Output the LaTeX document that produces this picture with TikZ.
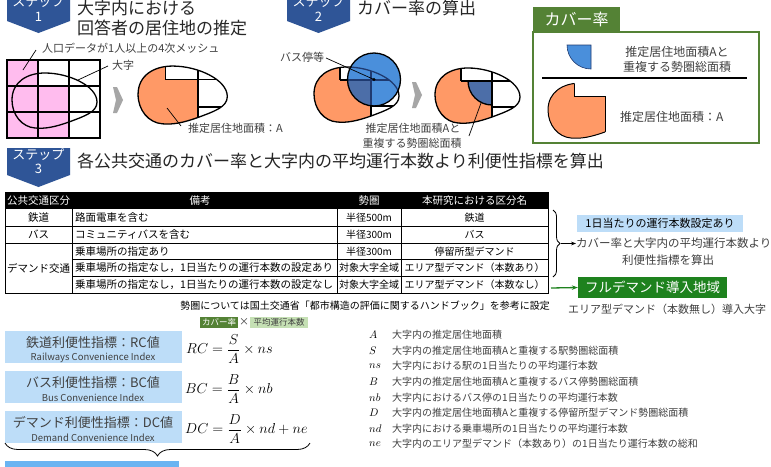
\documentclass[tikz,border=0pt]{standalone}
\usepackage{fontspec}
\setmainfont{Noto Sans CJK JP}
\usetikzlibrary{decorations.pathreplacing,arrows.meta}
\definecolor{badge}{HTML}{2F5597}
\definecolor{pinkc}{HTML}{FFBCEE}
\definecolor{orangec}{HTML}{FF9966}
\definecolor{bluec}{HTML}{4A8FDB}
\definecolor{darkbluec}{HTML}{4C6EA8}
\definecolor{navyc}{HTML}{1F3A70}
\definecolor{greenc}{HTML}{548235}
\definecolor{fullgreen}{HTML}{1E821E}
\definecolor{lightbluebox}{HTML}{BDDDF8}
\definecolor{lightgreen}{HTML}{C5E0B4}
\definecolor{barblue}{HTML}{6AB4F2}
\definecolor{txt}{HTML}{404040}
\definecolor{grayc}{HTML}{A6A6A6}
\newcommand{\fs}[1]{\fontsize{#1}{#1}\selectfont}
\tikzset{
  eggpath/.style={insert path={(5,40) .. controls (5,22) and (20,13) .. (38,13) .. controls (62,13) and (90,26) .. (90,42) .. controls (90,52) and (78,56) .. (62,62) .. controls (48,67) and (38,69) .. (28,68) .. controls (15,67) and (5,55) .. (5,40) -- cycle}},
  orangeregion/.style={insert path={(-5,-5) -- (31,-5) -- (31,26) -- (62,26) -- (62,80) -- (-5,80) -- cycle}},
  shapeline/.style={line width=1.3pt, draw=black},
  lbl/.style={inner sep=0pt, text=txt},
  tcell/.style={inner sep=0pt, font=\fs{10.5}, text=black},
  tcellS/.style={inner sep=0pt, font=\fs{10}, text=black},
  idxbox/.style={fill=lightbluebox, minimum width=177pt, minimum height=32pt, inner sep=0pt},
  leaderline/.style={line width=0.7pt, black},
}
\newcommand{\eggresult}{%
  \fill[white, eggpath];
  \begin{scope}
    \clip[eggpath];
    \fill[orangec, orangeregion];
    \draw[shapeline] (31,0) -- (31,26) (62,0) -- (62,80) (31,26) -- (95,26) (62,52) -- (95,52);
  \end{scope}
  \draw[shapeline, eggpath];
}
\begin{document}
\begin{tikzpicture}[x=1pt,y=-1pt]
\useasboundingbox (0,0) rectangle (771,466);
\fill[white] (0,0) rectangle (771,466);

% ---------- Step 1 ----------
\fill[badge] (7,-6) -- (70,-6) -- (70,21) -- (38.5,33) -- (7,21) -- cycle;
\node[inner sep=0pt, text=white, font=\fs{13}] (s1a) at (38.5,2) {ステップ};
\node[inner sep=0pt, text=white, font=\fs{13}] (s1b) at (38.5,17) {1};
\node[lbl, anchor=west, font=\fs{17}, text=black!85] (t1a) at (77,8) {大字内における};
\node[lbl, anchor=west, font=\fs{17}, text=black!85] (t1b) at (77,28) {回答者の居住地の推定};

\begin{scope}[shift={(7,60)}]
  \fill[pinkc] (0,0) rectangle (31,78);
  \fill[pinkc] (31,26) rectangle (62,78);
  \draw[shapeline] (0,0) rectangle (93,78) (31,0) -- (31,78) (62,0) -- (62,78) (0,26) -- (93,26) (0,52) -- (93,52);
  \draw[shapeline, eggpath];
\end{scope}
\node[lbl, anchor=west, font=\fs{11}] (meshlbl) at (42,48) {人口データが1人以上の4次メッシュ};
\coordinate (m1) at (36,50); \coordinate (m2) at (23,70);
\draw[leaderline] (m1) -- (m2);
\node[lbl, anchor=west, font=\fs{11}] (oaza) at (112,65) {大字};
\coordinate (o1) at (108,66); \coordinate (o2) at (78,80);
\draw[leaderline] (o1) -- (o2);

\fill[grayc] (113,87) -- (117,87) -- (123,100) -- (117,113) -- (113,113) -- (116,100) -- cycle;

\begin{scope}[shift={(132.8,52.4)}, scale=1.05]
  \eggresult
\end{scope}
\node[lbl, anchor=west, font=\fs{11}] (alab) at (188,128) {推定居住地面積：A};
\coordinate (a1) at (181,126); \coordinate (a2) at (167,108);
\draw[leaderline] (a1) -- (a2);

% ---------- Step 2 ----------
\fill[badge] (287,-6) -- (350,-6) -- (350,21) -- (318.5,33) -- (287,21) -- cycle;
\node[inner sep=0pt, text=white, font=\fs{13}] (s2a) at (318.5,2) {ステップ};
\node[inner sep=0pt, text=white, font=\fs{13}] (s2b) at (318.5,17) {2};
\node[lbl, anchor=west, font=\fs{17}, text=black!85] (t2) at (357,8) {カバー率の算出};

\begin{scope}[shift={(309,54)}]
  \eggresult
  \begin{scope}
    \clip (65,25.5) circle [radius=26.5];
    \fill[bluec] (65,25.5) circle [radius=26.5];
    \begin{scope}
      \clip[eggpath];
      \fill[darkbluec, orangeregion];
      \draw[line width=1.3pt, navyc] (31,0) -- (31,26) (62,0) -- (62,80) (31,26) -- (95,26) (62,52) -- (95,52);
    \end{scope}
    \draw[line width=1.3pt, navyc, eggpath];
  \end{scope}
  \draw[shapeline] (65,25.5) circle [radius=26.5];
  \coordinate (busdot) at (65,25.5);
\end{scope}
\fill (busdot) circle [radius=1.6];
\node[lbl, font=\fs{11}] (buslbl) at (302,57) {バス停等};
\coordinate (b1) at (326,58);
\draw[leaderline] (b1) -- (busdot);

\fill[grayc] (412,82) -- (416,82) -- (422,95) -- (416,108) -- (412,108) -- (415,95) -- cycle;

\begin{scope}[shift={(430,55)}]
  \eggresult
  \fill[darkbluec] (62,26) -- (38,26) arc[start angle=180, end angle=90, radius=24] -- cycle;
  \draw[shapeline] (38,26) arc[start angle=180, end angle=90, radius=24];
  \draw[shapeline] (36,26) -- (62,26) -- (62,51);
\end{scope}
\node[lbl, font=\fs{11}, align=center] (ovlbl1) at (413,128) {推定居住地面積Aと};
\node[lbl, font=\fs{11}, align=center] (ovlbl2) at (412,143) {重複する勢圏総面積};
\coordinate (v1) at (469,136); \coordinate (v2) at (481,103);
\draw[leaderline] (v1) -- (v2);

% ---------- Cover-rate box ----------
\node[fill=greenc, minimum width=87pt, minimum height=25pt, inner sep=0pt, text=white, font=\fs{16}] (covtab) at (576.5,19.5) {カバー率};
\draw[greenc, line width=1.5pt] (533,32) rectangle (759,143);
\fill[bluec] (591,45) -- (567,45) arc[start angle=180, end angle=90, radius=24] -- cycle;
\draw[line width=0.6pt, navyc] (591,45) -- (567,45) arc[start angle=180, end angle=90, radius=24] -- cycle;
\node[lbl, font=\fs{12}] (cnum1) at (677,52) {推定居住地面積Aと};
\node[lbl, font=\fs{12}] (cnum2) at (677,67) {重複する勢圏総面積};
\draw[line width=1.6pt] (542,78) -- (747,78);
\begin{scope}[shift={(543,70)}]
  \begin{scope}
    \clip[eggpath];
    \fill[orangec, orangeregion];
    \draw[line width=1pt, orangeregion];
  \end{scope}
  \begin{scope}
    \clip[orangeregion];
    \draw[line width=1pt, eggpath];
  \end{scope}
\end{scope}
\node[lbl, font=\fs{12}, anchor=west] (cden) at (620,117) {推定居住地面積：A};

% ---------- Step 3 ----------
\fill[badge] (7,148) -- (70,148) -- (70,175) -- (38.5,187) -- (7,175) -- cycle;
\node[inner sep=0pt, text=white, font=\fs{13}] (s3a) at (38.5,155) {ステップ};
\node[inner sep=0pt, text=white, font=\fs{13}] (s3b) at (38.5,169) {3};
\node[lbl, anchor=west, font=\fs{17}, text=black!85] (t3) at (77,161) {各公共交通のカバー率と大字内の平均運行本数より利便性指標を算出};

% ---------- Table ----------
\fill[black] (5,192) rectangle (548,209);
\draw[line width=0.7pt] (5,192) rectangle (548,293);
\draw[line width=0.7pt] (72,209) -- (72,293) (337,209) -- (337,293) (401,209) -- (401,293);
\draw[line width=0.7pt] (5,226) -- (548,226) (5,243) -- (548,243) (72,259.5) -- (548,259.5) (72,276) -- (548,276);
\node[tcell, text=white] (h1) at (38.5,200.5) {公共交通区分};
\node[tcell, text=white] (h2) at (200,200.5) {備考};
\node[tcell, text=white] (h3) at (369,200.5) {勢圏};
\node[tcell, text=white] (h4) at (474.5,200.5) {本研究における区分名};
\node[tcell] (c11) at (38.5,217.5) {鉄道};
\node[tcell] (c21) at (38.5,234.5) {バス};
\node[tcell] (c31) at (38.5,268) {デマンド交通};
\node[tcell, anchor=west] (c12) at (75,217.5) {路面電車を含む};
\node[tcell, anchor=west] (c22) at (75,234.5) {コミュニティバスを含む};
\node[tcell, anchor=west] (c32) at (75,251.2) {乗車場所の指定あり};
\node[tcell, anchor=west] (c42) at (75,267.8) {乗車場所の指定なし，1日当たりの運行本数の設定あり};
\node[tcell, anchor=west] (c52) at (75,284.5) {乗車場所の指定なし，1日当たりの運行本数の設定なし};
\node[tcellS] (c13) at (369,217.5) {半径500m};
\node[tcellS] (c23) at (369,234.5) {半径300m};
\node[tcellS] (c33) at (369,251.2) {半径300m};
\node[tcellS] (c43) at (369,267.8) {対象大字全域};
\node[tcellS] (c53) at (369,284.5) {対象大字全域};
\node[tcellS] (c14) at (474.5,217.5) {鉄道};
\node[tcellS] (c24) at (474.5,234.5) {バス};
\node[tcellS] (c34) at (474.5,251.2) {停留所型デマンド};
\node[tcellS] (c44) at (474.5,267.8) {エリア型デマンド（本数あり）};
\node[tcellS] (c54) at (474.5,284.5) {エリア型デマンド（本数なし）};
\node[lbl, font=\fs{10}, text=black] (note) at (365,306) {勢圏については国土交通省「都市構造の評価に関するハンドブック」を参考に設定};

% ---------- Right side ----------
\coordinate (br1) at (553,210); \coordinate (br2) at (553,277);
\draw[line width=0.8pt, decorate, decoration={brace, amplitude=7pt}] (br1) -- (br2);
\coordinate (brtip) at (561,243.5);
\node[fill=lightbluebox, minimum width=166pt, minimum height=17pt, inner sep=0pt, font=\fs{11}] (oneday) at (660,223.5) {1日当たりの運行本数設定あり};
\node[lbl, font=\fs{11.5}, anchor=west] (calc1) at (576,243.5) {カバー率と大字内の平均運行本数より};
\node[lbl, font=\fs{11.5}] (calc2) at (668,260) {利便性指標を算出};
\draw[line width=0.7pt, -{Stealth[length=5pt]}] (brtip) -- (calc1.west);
\node[fill=fullgreen, minimum width=149pt, minimum height=21pt, inner sep=0pt, text=white, font=\fs{13.5}] (fullbox) at (652.5,287.5) {フルデマンド導入地域};
\coordinate (gstart) at (551,288);
\draw[fullgreen, line width=1.3pt, -{Stealth[length=6pt]}] (gstart) -- (fullbox.west);
\node[lbl, font=\fs{11}] (fulltxt) at (667,309) {エリア型デマンド（本数無し）導入大字};

% ---------- Indices ----------
\node[fill=greenc, minimum width=38pt, minimum height=11pt, inner sep=0pt, text=white, font=\fs{8.5}] (tagc) at (219,322) {カバー率};
\node[inner sep=0pt, font=\fs{10}, text=txt] (tagx) at (244,322) {×};
\node[fill=lightgreen, minimum width=58pt, minimum height=11pt, inner sep=0pt, text=txt, font=\fs{8.5}] (tagn) at (279,322) {平均運行本数};

\node[idxbox] (box1) at (93.5,347) {};
\node[idxbox] (box2) at (93.5,387) {};
\node[idxbox] (box3) at (93.5,427) {};
\node[lbl, font=\fs{13}] (b1a) at (93,343) {鉄道利便性指標：RC値};
\node[lbl, font=\fs{9.5}] (b1b) at (93,358) {Railways Convenience Index};
\node[lbl, font=\fs{13}] (b2a) at (93,382.5) {バス利便性指標：BC値};
\node[lbl, font=\fs{9.5}] (b2b) at (93,398) {Bus Convenience Index};
\node[lbl, font=\fs{13}] (b3a) at (93,422.5) {デマンド利便性指標：DC値};
\node[lbl, font=\fs{9.5}] (b3b) at (93,438) {Demand Convenience Index};

\node[inner sep=0pt, anchor=west, font=\fs{15.5}] (eq1) at (186,349) {$\displaystyle RC=\frac{S}{A}\times ns$};
\node[inner sep=0pt, anchor=west, font=\fs{15.5}] (eq2) at (185,389) {$\displaystyle BC=\frac{B}{A}\times nb$};
\node[inner sep=0pt, anchor=west, font=\fs{15.5}] (eq3) at (185,429) {$\displaystyle DC=\frac{D}{A}\times nd+ne$};

\coordinate (bb1) at (310,443); \coordinate (bb2) at (5,443);
\draw[line width=0.8pt, decorate, decoration={brace, amplitude=13pt}] (bb1) -- (bb2);
\fill[barblue] (5,461) rectangle (179,470);

% ---------- Legend ----------
\foreach \v/\d [count=\i] in {
  A/大字内の推定居住地面積,
  S/大字内の推定居住地面積Aと重複する駅勢圏総面積,
  ns/大字内における駅の1日当たりの平均運行本数,
  B/大字内の推定居住地面積Aと重複するバス停勢圏総面積,
  nb/大字内におけるバス停の1日当たりの平均運行本数,
  D/大字内の推定居住地面積Aと重複する停留所型デマンド勢圏総面積,
  nd/大字内における乗車場所の1日当たりの平均運行本数,
  ne/大字内のエリア型デマンド（本数あり）の1日当たり運行本数の総和}{
  \node[inner sep=0pt, anchor=west, font=\fs{11}] (lv\i) at (369,{335+15.55*(\i-1)}) {$\v$};
  \node[lbl, anchor=west, font=\fs{10}] (ld\i) at (392,{335+15.55*(\i-1)}) {\d};
}
\end{tikzpicture}
\end{document}
